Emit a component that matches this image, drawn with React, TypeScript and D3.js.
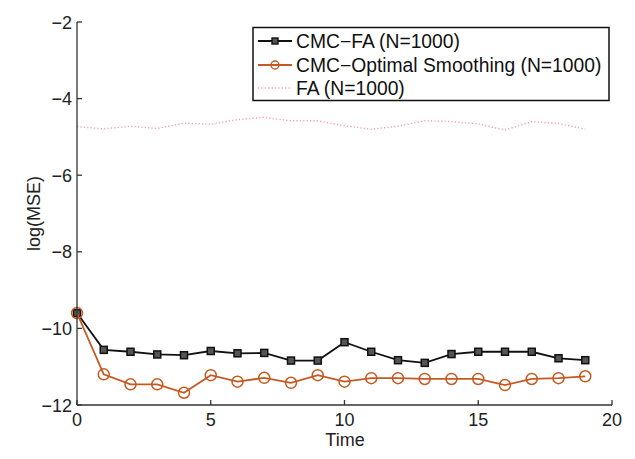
import { useMemo } from 'react'
import * as d3 from 'd3'

const times = d3.range(0, 20)

const cmcFa = [
  -9.6, -10.56, -10.61, -10.68, -10.7, -10.59, -10.65, -10.64, -10.84, -10.84,
  -10.36, -10.61, -10.83, -10.9, -10.67, -10.61, -10.61, -10.61, -10.78, -10.83,
]

const cmcSmooth = [
  -9.6, -11.2, -11.46, -11.46, -11.68, -11.22, -11.39, -11.29, -11.42, -11.22,
  -11.39, -11.3, -11.3, -11.32, -11.32, -11.32, -11.48, -11.32, -11.3, -11.25,
]

const fa = [
  -4.73, -4.79, -4.72, -4.78, -4.64, -4.67, -4.55, -4.49, -4.58, -4.58,
  -4.71, -4.8, -4.72, -4.58, -4.6, -4.66, -4.82, -4.6, -4.65, -4.8,
]

const xTicks = [0, 5, 10, 15, 20]
const yTicks = [-2, -4, -6, -8, -10, -12]
const legendLabels = ['CMC\u2212FA (N=1000)', 'CMC\u2212Optimal Smoothing (N=1000)', 'FA (N=1000)']

const W = 635
const H = 459
const FONT = 'Liberation Sans, Arial, Helvetica, sans-serif'
const ORANGE = '#c45a22'
const PINK = '#f49aab'
const AXIS = '#333'

export default function App() {
  const { x, y } = useMemo(() => {
    const x = d3.scaleLinear().domain([0, 20]).range([77, 612])
    const y = d3.scaleLinear().domain([-12, -2]).range([405, 22])
    return { x, y }
  }, [])

  const line = d3
    .line<number>()
    .x((_d: number, i: number) => x(times[i]))
    .y((d: number) => y(d))

  const lx0 = 258
  const lx1 = 292
  const rows = [41, 65, 88]

  return (
    <svg width={W} height={H} style={{ position: 'absolute', left: 0, top: 0, background: '#fff' }}>
      <rect width={W} height={H} fill="#fff" />

      {/* FA dotted */}
      <path d={line(fa) || ''} fill="none" stroke={PINK} strokeWidth={1.4} strokeDasharray="1.2,2.2" />

      {/* CMC-FA */}
      <path d={line(cmcFa) || ''} fill="none" stroke="#111" strokeWidth={1.8} />
      {cmcFa.map((v: number, i: number) => (
        <rect
          key={`s${i}`}
          x={x(times[i]) - 3.5}
          y={y(v) - 3.5}
          width={7}
          height={7}
          fill="#555"
          stroke="#111"
          strokeWidth={1.5}
        />
      ))}

      {/* CMC-Optimal Smoothing */}
      <path d={line(cmcSmooth) || ''} fill="none" stroke={ORANGE} strokeWidth={1.8} />
      {cmcSmooth.map((v: number, i: number) => (
        <circle key={`c${i}`} cx={x(times[i])} cy={y(v)} r={5.5} fill="none" stroke={ORANGE} strokeWidth={1.5} />
      ))}

      {/* axes */}
      <line x1={x(0)} x2={x(20)} y1={y(-12)} y2={y(-12)} stroke={AXIS} strokeWidth={1.3} />
      <line x1={x(0)} x2={x(0)} y1={y(-12)} y2={y(-2)} stroke={AXIS} strokeWidth={1.3} />
      {xTicks.map((t: number) => (
        <g key={`xt${t}`}>
          <line x1={x(t)} x2={x(t)} y1={y(-12)} y2={y(-12) - 5} stroke={AXIS} strokeWidth={1.3} />
          <text x={x(t)} y={y(-12) + 21} textAnchor="middle" fontFamily={FONT} fontSize={18} fill="#222">
            {t}
          </text>
        </g>
      ))}
      {yTicks.map((t: number) => (
        <g key={`yt${t}`}>
          <line x1={x(0)} x2={x(0) + 5} y1={y(t)} y2={y(t)} stroke={AXIS} strokeWidth={1.3} />
          <text x={x(0) - 5} y={y(t) + 6.5} textAnchor="end" fontFamily={FONT} fontSize={18} fill="#222">
            {String(t).replace('-', '\u2212')}
          </text>
        </g>
      ))}
      <text x={345} y={446} textAnchor="middle" fontFamily={FONT} fontSize={18} fill="#222">
        Time
      </text>
      <text
        transform={`translate(40,${y(-7)}) rotate(-90)`}
        textAnchor="middle"
        fontFamily={FONT}
        fontSize={18}
        fill="#222"
      >
        log(MSE)
      </text>

      {/* legend */}
      <rect x={253} y={27.5} width={356} height={73} fill="#fff" stroke="#111" strokeWidth={1.5} />
      <line x1={lx0} x2={lx1} y1={rows[0]} y2={rows[0]} stroke="#111" strokeWidth={1.8} />
      <rect x={(lx0 + lx1) / 2 - 3} y={rows[0] - 3} width={6} height={6} fill="#555" stroke="#111" strokeWidth={1.4} />
      <line x1={lx0} x2={lx1} y1={rows[1]} y2={rows[1]} stroke={ORANGE} strokeWidth={1.8} />
      <circle cx={(lx0 + lx1) / 2} cy={rows[1]} r={4} fill="none" stroke={ORANGE} strokeWidth={1.4} />
      <line x1={lx0} x2={lx1} y1={rows[2]} y2={rows[2]} stroke={PINK} strokeWidth={1.4} strokeDasharray="1.2,2.2" />
      {legendLabels.map((s: string, i: number) => (
        <text key={s} x={296} y={rows[i] + 7} fontFamily={FONT} fontSize={19.3} fill="#111">
          {s}
        </text>
      ))}
    </svg>
  )
}
